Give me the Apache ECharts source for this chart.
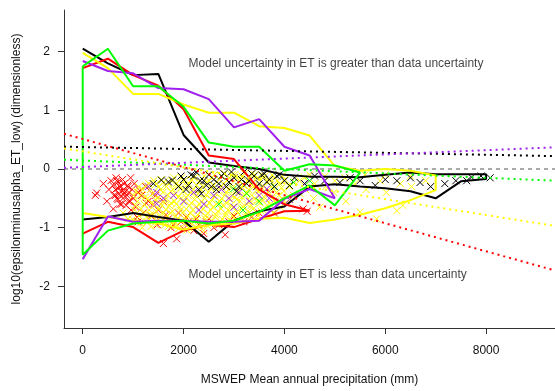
<!DOCTYPE html>
<html><head><meta charset="utf-8">
<script src="https://cdn.jsdelivr.net/npm/echarts@6/dist/echarts.min.js"></script>
<style>html,body{margin:0;padding:0;background:#fff}#c{width:555px;height:391px}</style>
</head><body><div id="c"></div>
<script>
// ---- axes ----
const xRange = [-371, 9366];
const yRange = [-2.71, 2.71];
const xTicks = [0, 2000, 4000, 6000, 8000];
const yTicks = [-2, -1, 0, 1, 2];
const xTitle = 'MSWEP Mean annual precipitation (mm)';
const yTitle = 'log10(epsilonminusalpha_ET_low) (dimensionless)';
const noteHigh = 'Model uncertainty in ET is greater than data uncertainty';
const noteLow = 'Model uncertainty in ET is less than data uncertainty';
const notePos = [[2100, 1.8], [2100, -1.8]];

// ---- envelope lines (per 500 mm bin) ----
const binX = [0,500,1000,1500,2000,2500,3000,3500,4000,4500,5000,5500,6000,6500,7000,7500,8000];
const blackUpper = [2.05,1.8,1.6,1.62,0.58,0.11,0.05,0.0,-0.1,-0.13,-0.13,-0.14,-0.1,-0.06,-0.09,-0.09,-0.09];
const blackLower = [-0.86,-0.82,-0.75,-0.82,-0.88,-1.24,-0.88,-0.72,-0.64,-0.3,-0.26,-0.3,-0.33,-0.38,-0.5,-0.21,-0.17];
const redUpper = [1.72,1.88,1.6,1.42,1.02,0.23,0.17,-0.35,-0.6,-0.71];
const redLower = [-1.1,-0.9,-0.99,-1.26,-1.05,-0.95,-0.99,-0.85,-0.72,-0.71];
const greenUpper = [1.75,2.05,1.41,1.41,1.06,0.45,0.38,0.38,-0.03,0.08,0.06,-0.06];
const greenLower = [-1.46,-1.05,-0.93,-0.9,-0.88,-0.93,-0.88,-0.73,-0.5,-0.28,-0.62,-0.06];
const purpleUpper = [1.84,1.67,1.63,1.38,1.36,1.19,0.71,0.85,0.38,0.23,-0.5];
const purpleLower = [-1.54,-0.81,-0.9,-0.88,-0.88,-0.9,-0.9,-0.88,-0.51,-0.34,-0.5];
const yellowUpper = [1.98,1.72,1.28,1.28,1.1,0.96,0.96,0.73,0.7,0.57,0.05,-0.03,0.0,-0.03,-0.11];
const yellowLower = [-0.75,-0.82,-0.88,-0.93,-1.03,-0.96,-0.93,-0.85,-0.83,-0.92,-0.86,-0.78,-0.67,-0.53,-0.36];

// ---- fitted (dotted) lines: value at left edge, value at right edge ----
const blackFit = [0.38, 0.22];
const redFit = [0.6, -1.73];
const greenFit = [0.16, -0.2];
const purpleFit = [0.02, 0.37];
const yellowFit = [0.35, -0.97];

// ---- points ----
const redPts = [[250,-0.45],[277,-0.41],[410,-0.25],[480,-0.55],[520,-0.35],[560,-0.2],[600,-0.28],[607,-0.68],[620,-0.45],[650,-0.35],[660,-0.15],[675,-0.2],[700,-0.22],[700,-0.52],[720,-0.42],[730,-0.3],[760,-0.3],[770,-0.6],[790,-0.18],[800,-0.5],[820,-0.25],[830,-0.4],[850,-0.38],[860,-0.62],[880,-0.45],[890,-0.28],[900,-0.3],[910,-0.55],[920,-0.4],[940,-0.55],[950,-0.15],[960,-0.7],[980,-0.35],[680,-0.5],[740,-0.6],[780,-0.38],[810,-0.44],[650,-0.45],[700,-0.33],[1000,-0.5],[1020,-0.25],[1050,-0.65],[1080,-0.82],[1100,-0.4],[1100,-0.9],[1136,-0.37],[1170,-0.45],[1200,-0.75],[1250,-0.3],[1260,-0.58],[1300,-0.55],[1350,-0.8],[1380,-0.42],[1400,-0.6],[1450,-0.45],[1480,-0.95],[1500,-0.7],[1550,-0.9],[1600,-1.27],[1600,-0.55],[1650,-0.78],[1700,-0.85],[1750,-1.0],[1800,-0.95],[1863,-1.19],[1900,-0.75],[1950,-0.9],[2000,-1.02],[2050,-0.82],[2100,-0.9],[2200,-1.05],[2250,-0.85],[2300,-0.95],[2400,-1.1],[2450,-0.9],[2500,-0.85],[2600,-1.0],[2700,-0.95],[2825,-1.12],[2900,-0.9],[3000,-0.8],[3200,-0.9],[3350,-0.82],[3500,-0.75],[3800,-0.75],[4370,-0.68],[4450,-0.72]];
const yellowPts = [[800,-0.75],[900,-0.85],[1010,-0.45],[1030,-0.7],[990,-0.86],[1110,-0.3],[1090,-0.55],[1120,-0.8],[1190,-0.35],[1220,-0.6],[1210,-0.76],[1180,-1.0],[1310,-0.25],[1290,-0.5],[1320,-0.7],[1280,-0.9],[1410,-0.2],[1390,-0.42],[1420,-0.62],[1380,-0.8],[1510,-0.3],[1490,-0.5],[1520,-0.68],[1480,-0.88],[1610,-0.22],[1590,-0.4],[1620,-0.58],[1580,-0.75],[1630,-0.95],[1710,-0.25],[1690,-0.45],[1720,-0.62],[1680,-0.8],[1700,-0.98],[1810,-0.15],[1790,-0.35],[1820,-0.55],[1780,-0.72],[1830,-0.9],[1910,-0.28],[1890,-0.48],[1920,-0.65],[1880,-0.85],[1900,-1.02],[2010,-0.2],[1990,-0.38],[2020,-0.55],[1980,-0.75],[2030,-0.92],[2110,-0.25],[2090,-0.45],[2120,-0.62],[2080,-0.8],[2100,-1.0],[2210,-0.15],[2190,-0.35],[2220,-0.52],[2180,-0.7],[2230,-0.88],[2310,-0.22],[2290,-0.42],[2320,-0.6],[2280,-0.78],[2300,-0.98],[2410,-0.12],[2390,-0.3],[2420,-0.5],[2380,-0.68],[2430,-0.85],[2400,-1.05],[2510,-0.2],[2490,-0.4],[2520,-0.58],[2480,-0.75],[2530,-0.92],[2610,-0.1],[2590,-0.28],[2620,-0.48],[2580,-0.65],[2630,-0.82],[2710,-0.18],[2690,-0.38],[2720,-0.55],[2680,-0.72],[2730,-0.9],[2810,-0.08],[2790,-0.25],[2820,-0.45],[2780,-0.62],[2830,-0.8],[2910,-0.15],[2890,-0.35],[2920,-0.52],[2880,-0.7],[2930,-0.88],[3010,-0.1],[2990,-0.3],[3020,-0.48],[2980,-0.65],[3030,-0.85],[3110,-0.2],[3090,-0.38],[3120,-0.55],[3080,-0.75],[3210,-0.08],[3190,-0.28],[3220,-0.45],[3180,-0.65],[3230,-0.82],[3310,-0.15],[3290,-0.35],[3320,-0.55],[3280,-0.72],[3410,-0.1],[3390,-0.3],[3420,-0.5],[3380,-0.68],[3510,-0.18],[3490,-0.38],[3520,-0.58],[3480,-0.8],[3610,-0.12],[3590,-0.3],[3620,-0.5],[3580,-0.7],[3710,-0.2],[3690,-0.4],[3720,-0.6],[3810,-0.15],[3790,-0.35],[3820,-0.55],[3780,-0.75],[3910,-0.25],[3890,-0.45],[3920,-0.65],[4010,-0.18],[3990,-0.38],[4020,-0.58],[4200,-0.22],[4180,-0.45],[4400,-0.15],[4420,-0.35],[4600,-0.25],[4580,-0.5],[4700,-0.65],[4800,-0.12],[4820,-0.3],[5000,-0.2],[4980,-0.4],[5200,-0.15],[5220,-0.55],[5400,-0.25],[5500,-0.73],[5600,-0.1],[5620,-0.35],[5830,-0.85],[5900,-0.2],[6000,-0.1],[6020,-0.4],[6230,-0.71],[6300,-0.25],[6350,-0.62],[6500,-0.12],[6520,-0.3],[6800,-0.2],
  [1060,-0.38],[1045,-0.62],[1065,-0.9],[1140,-0.45],[1160,-0.68],[1145,-0.92],[1255,-0.28],[1240,-0.48],[1265,-0.82],[1345,-0.35],[1360,-0.58],[1340,-0.78],[1355,-0.98],[1460,-0.25],[1440,-0.52],[1455,-0.72],[1445,-0.95],[1560,-0.18],[1545,-0.35],[1555,-0.6],[1540,-0.82],[1660,-0.3],[1645,-0.52],[1655,-0.7],[1640,-0.88],[1760,-0.2],[1745,-0.38],[1755,-0.58],[1740,-0.75],[1765,-0.92],[1860,-0.25],[1845,-0.42],[1855,-0.6],[1840,-0.8],[1865,-0.96],[1960,-0.15],[1945,-0.32],[1955,-0.5],[1940,-0.7],[1965,-0.88],[2060,-0.28],[2045,-0.48],[2055,-0.68],[2040,-0.86],[2065,-1.04],[2160,-0.18],[2145,-0.4],[2155,-0.58],[2140,-0.76],[2165,-0.94],[2260,-0.28],[2245,-0.46],[2255,-0.64],[2240,-0.82],[2265,-1.0],[2360,-0.16],[2345,-0.35],[2355,-0.55],[2340,-0.73],[2365,-0.92],[2460,-0.22],[2445,-0.44],[2455,-0.62],[2440,-0.8],[2465,-0.96],[2560,-0.14],[2545,-0.33],[2555,-0.52],[2540,-0.7],[2565,-0.88],[2660,-0.22],[2645,-0.42],[2655,-0.6],[2640,-0.78],[2665,-0.95],[2760,-0.12],[2745,-0.3],[2755,-0.5],[2740,-0.68],[2765,-0.85],[2860,-0.2],[2845,-0.4],[2855,-0.58],[2840,-0.76],[2865,-0.92],[2960,-0.1],[2945,-0.26],[2955,-0.45],[2940,-0.62],[2965,-0.8],[3060,-0.16],[3045,-0.34],[3055,-0.52],[3040,-0.7],[3065,-0.9],[3160,-0.12],[3145,-0.3],[3155,-0.48],[3140,-0.66],[3165,-0.84],[3260,-0.2],[3245,-0.4],[3255,-0.6],[3240,-0.78],[3360,-0.08],[3345,-0.25],[3355,-0.45],[3340,-0.62],[3365,-0.8],[3460,-0.16],[3445,-0.36],[3455,-0.55],[3440,-0.74],[3560,-0.12],[3545,-0.32],[3555,-0.52],[3540,-0.72],[3660,-0.22],[3645,-0.42],[3655,-0.62],[3760,-0.1],[3745,-0.3],[3755,-0.5],[3740,-0.7],[3860,-0.2],[3845,-0.4],[3855,-0.6],[3960,-0.12],[3945,-0.32],[3955,-0.5],[4100,-0.3],[4110,-0.52],[4300,-0.2],[4310,-0.42],[4500,-0.1],[4510,-0.3]];
const blackPts = [[1400,-0.25],[1560,-0.19],[1700,-0.22],[1780,-0.19],[1900,-0.3],[1950,-0.12],[2000,-0.18],[2050,-0.35],[2100,-0.28],[2150,-0.1],[2200,-0.12],[2250,-0.05],[2300,-0.35],[2330,-0.2],[2350,-0.42],[2400,-0.2],[2450,-0.28],[2500,-0.1],[2550,-0.3],[2600,-0.18],[2650,-0.35],[2700,-0.25],[2750,-0.12],[2800,-0.08],[2850,-0.3],[2900,-0.22],[2950,-0.05],[3000,-0.15],[3050,-0.38],[3100,-0.3],[3150,-0.18],[3200,-0.05],[3250,-0.25],[3300,-0.2],[3350,-0.08],[3400,-0.12],[3450,-0.3],[3500,-0.25],[3550,-0.1],[3600,-0.08],[3650,-0.22],[3700,-0.18],[3800,-0.3],[3850,-0.12],[3900,-0.1],[4000,-0.2],[4100,-0.28],[4200,-0.15],[4400,-0.25],[4600,-0.12],[4800,-0.2],[5100,-0.23],[5300,-0.15],[5500,-0.2],[5800,-0.28],[6000,-0.18],[6230,-0.2],[6500,-0.15],[6690,-0.23],[6900,-0.3],[7180,-0.25],[7400,-0.2],[7615,-0.2],[7710,-0.14],[7900,-0.12],[8080,-0.15]];
const purplePts = [[1300,-0.3],[1467,-0.4],[1467,-0.59],[1600,-0.5],[1800,-0.45],[2000,-0.55],[2200,-0.4],[2300,-0.7],[2400,-0.6],[2600,-0.45],[2750,-0.35],[2900,-0.5],[3000,-0.65],[3100,-0.4],[3300,-0.55],[3500,-0.45],[3650,-0.34],[3700,-0.5],[3900,-0.55],[4100,-0.52],[4400,-0.25]];
const greenPts = [[2700,-0.6],[2990,-0.34],[3180,-0.7],[3250,-0.42],[3500,-0.55],[3800,-0.3],[4180,-0.23],[4500,-0.2]];

const COL = {black:'#000000', red:'#FF0000', green:'#00FF00', purple:'#A020F0', yellow:'#FFFF00'};

function envelope(upper, lower, close) {
  const pts = upper.map((v, i) => [binX[i], v]);
  for (let i = lower.length - 1; i >= 0; i--) pts.push([binX[i], lower[i]]);
  if (close) pts.push([binX[0], upper[0]]);
  return pts;
}
const xMark = 'path://M0,0L10,10M10,0L0,10';
function pts(data, c) {
  return {type:'scatter', data, symbol:xMark, symbolSize:7, silent:true, large:false,
    itemStyle:{color:'rgba(0,0,0,0)', borderColor:c, borderWidth:1, opacity:1}};
}
function env(data, c) {
  return {type:'line', data, showSymbol:false, symbol:'none', silent:true,
    lineStyle:{color:c, width:2}};
}
function fit(v, c) {
  return {type:'line', data:[[xRange[0], v[0]], [xRange[1], v[1]]], showSymbol:false, symbol:'none', silent:true,
    lineStyle:{color:c, width:2, type:[2,4]}};
}
function note(p, text) {
  return {type:'scatter', data:[p], symbolSize:0, silent:true, z:5,
    label:{show:true, position:'right', distance:0, formatter:text, fontSize:12, color:'#111',
      fontFamily:'Liberation Sans, Arial, sans-serif'}};
}

const chart = echarts.init(document.getElementById('c'), null, {renderer:'canvas'});
const txt = {fontSize:12, color:'#111', fontFamily:'Liberation Sans, Arial, sans-serif'};
chart.setOption({
  animation:false,
  backgroundColor:'#ffffff',
  grid:{left:64, right:0, top:10, bottom:61, containLabel:false},
  xAxis:{type:'value', min:xRange[0], max:xRange[1], splitLine:{show:false},
    axisLine:{onZero:false, lineStyle:{color:'#333', width:1}},
    axisTick:{customValues:xTicks, length:6, lineStyle:{color:'#333'}},
    axisLabel:Object.assign({customValues:xTicks, margin:17, formatter:v=>String(v)}, txt),
    name:xTitle, nameLocation:'middle', nameGap:46, nameTextStyle:txt},
  yAxis:{type:'value', min:yRange[0], max:yRange[1], splitLine:{show:false},
    axisLine:{show:true, onZero:false, lineStyle:{color:'#333', width:1}},
    axisTick:{show:true, customValues:yTicks, length:6, lineStyle:{color:'#333'}},
    axisLabel:Object.assign({customValues:yTicks, margin:14, formatter:v=>String(v)}, txt),
    name:yTitle, nameLocation:'middle', nameGap:41, nameRotate:90, nameTextStyle:txt},
  series:[
    {type:'line', data:[[xRange[0],0],[xRange[1],0]], showSymbol:false, symbol:'none', silent:true,
      lineStyle:{color:'#555', width:1, type:[4,4]}},
    pts(redPts, COL.red),
    pts(yellowPts, COL.yellow),
    pts(purplePts, COL.purple),
    pts(greenPts, COL.green),
    pts(blackPts, COL.black),
    env(envelope(blackUpper, blackLower), COL.black),
    env(envelope(redUpper, redLower), COL.red),
    env(envelope(yellowUpper, yellowLower), COL.yellow),
    env(envelope(purpleUpper, purpleLower), COL.purple),
    env(envelope(greenUpper, greenLower, true), COL.green),
    fit(blackFit, COL.black),
    fit(redFit, COL.red),
    fit(greenFit, COL.green),
    fit(purpleFit, COL.purple),
    fit(yellowFit, COL.yellow),
    note(notePos[0], noteHigh),
    note(notePos[1], noteLow)
  ]
});
</script></body></html>
